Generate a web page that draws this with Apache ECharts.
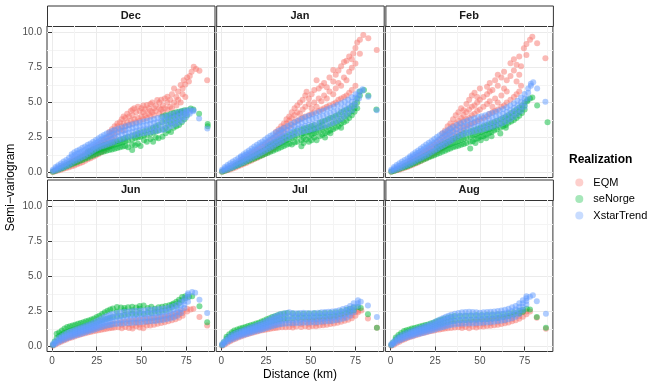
<!DOCTYPE html>
<html>
<head>
<meta charset="utf-8">
<script src="https://cdn.jsdelivr.net/npm/echarts@6/dist/echarts.min.js"></script>
<style>
  html, body { margin: 0; padding: 0; background: #fff; }
  #chart { width: 664px; height: 388px; }
</style>
</head>
<body>
<div id="chart"></div>
<script>
// facets, legend entries, ticks
const months = ['Dec', 'Jan', 'Feb', 'Jun', 'Jul', 'Aug'];
const realizations = ['EQM', 'seNorge', 'XstarTrend'];
const colors = ['#F8766D', '#00BA38', '#619CFF'];
const xTicks = [0, 25, 50, 75];
const xMinor = [12.5, 37.5, 62.5, 87.5];
const yTicks = [0, 2.5, 5, 7.5, 10];
const yMinor = [1.25, 3.75, 6.25, 8.75];

// semi-variogram: [distance, [values at that distance]]
const decEQM = [[0.5,[0.04]],[2,[0.08,0.14]],[3.5,[0.14,0.24]],[5,[0.2,0.34]],[6.5,[0.26,0.44]],[8,[0.32,0.54]],[9.5,[0.38,0.64]],[11,[0.44,0.62,0.78]],[12.5,[0.5,0.7,0.9]],[14,[0.58,0.8,1.0]],[15.5,[0.66,0.88,1.1]],[17,[0.74,0.98,1.2]],[18.5,[0.84,1.08,1.32]],[20,[0.94,1.18,1.44]],[21.5,[1.02,1.3,1.56]],[23,[1.12,1.42,1.7]],[24.5,[1.22,1.54,1.86]],[26,[1.32,1.66,2.0]],[27.5,[1.44,1.8,2.14]],[29,[1.56,1.94,2.3]],[30.5,[1.7,2.1,2.46]],[32,[1.84,2.26,2.64,2.9]],[33.5,[2.0,2.42,2.82,3.1]],[35,[2.2,2.6,3.0,3.3]],[36.5,[2.9,3.3,3.5]],[38,[3.1,3.6]],[39,[3.3,3.8]],[40,[3.0,3.5,4.0]],[41,[3.3,3.9]],[42,[3.6,4.2]],[43,[3.4,4.0]],[44,[3.7,4.4]],[45,[3.5,4.1,4.5]],[46,[3.8,4.6]],[47,[3.6,4.3]],[48,[3.9,4.7]],[49,[3.7,4.4]],[50,[4.0,4.6]],[51,[3.8,4.3,4.8]],[52,[4.1,4.5]],[53,[3.9,4.82]],[54,[4.2,4.6]],[55,[4.0,4.4,4.9]],[56,[4.3,5.0]],[57,[4.1,4.6]],[58,[4.4,4.8]],[58.8,[5.18]],[60,[4.2,4.6,5.0]],[61,[4.5,5.2]],[62,[4.3,4.8]],[63,[4.6,5.3]],[64.5,[4.5,5.0,5.42]],[66,[4.7,5.2]],[67,[4.6,5.6]],[68.2,[5.0,6.0]],[69.5,[4.8,5.4]],[70.5,[5.2,5.8]],[71.9,[5.0,6.25]],[73,[5.6,6.0]],[73.6,[6.6]],[74.5,[5.4,6.3]],[75.5,[6.8]],[76.5,[6.5]],[77,[6.9]],[78,[7.2]],[79.2,[7.56]],[80.5,[7.4]],[82.4,[7.28]],[86.7,[6.6]]];
const decSeNorge = [[0.5,[0.06]],[2,[0.12]],[3.5,[0.2]],[5,[0.26,0.32]],[6.5,[0.34,0.42]],[8,[0.42,0.52]],[9.5,[0.5,0.62]],[11,[0.58,0.72]],[12.5,[0.66,0.82]],[14,[0.74,0.92]],[15.5,[0.82,1.02]],[17,[0.9,1.12]],[18.5,[0.98,1.22]],[20,[1.06,1.3,1.5]],[21.5,[1.14,1.38,1.58]],[23,[1.22,1.46,1.66]],[24.5,[1.3,1.54,1.74]],[26,[1.38,1.6,1.82]],[27.5,[1.44,1.68,1.9]],[29,[1.5,1.74,1.96]],[30.5,[1.55,1.8,2.02]],[32,[1.6,1.86,2.08]],[33.5,[1.65,1.92,2.14]],[35,[1.7,1.98,2.2]],[36.5,[1.75,2.04,2.26]],[38,[1.8,2.1,2.34]],[39.5,[1.85,2.16,2.4]],[41,[1.9,2.22,2.48]],[42.5,[1.8,2.28,2.56]],[44.8,[1.6,2.0,2.36,2.64]],[46.5,[1.95,2.44,2.72]],[48,[2.05,2.5,2.8]],[49.5,[1.9,2.56,2.88]],[51.4,[2.31,2.64,2.95]],[53,[2.2,2.7,3.02]],[55,[2.4,2.78,3.1]],[56.5,[2.2,2.86,3.2]],[58,[2.5,2.94,3.3]],[59.5,[2.45,3.0,3.4]],[61.7,[2.55,3.1,3.6,4.0]],[63.5,[2.8,3.2,3.7,4.1]],[65,[3.0,3.4,3.8,4.1]],[66.5,[2.9,3.5,3.9,4.2]],[68,[3.2,3.6,4.0,4.25]],[69.5,[3.3,3.7,4.1,4.3]],[71,[3.4,3.8,4.2,4.35]],[72.5,[3.6,4.0,4.3,4.4]],[74,[3.8,4.2,4.45]],[75.5,[4.1,4.46]],[77.5,[4.58]],[79,[4.5]],[82.2,[4.2]],[87,[3.46,3.3]]];
const decXstar = [[0.5,[0.1,0.2]],[2,[0.14,0.28,0.4]],[3.5,[0.22,0.38,0.52]],[5,[0.3,0.48,0.65]],[6.5,[0.38,0.58,0.78]],[8,[0.48,0.68,0.9]],[9.5,[0.56,0.8,1.05]],[11,[0.68,0.9,1.15,1.3]],[12.5,[0.8,1.02,1.24,1.45]],[14,[0.9,1.12,1.34,1.55]],[15.5,[0.98,1.2,1.42,1.64]],[17,[1.08,1.3,1.52,1.76]],[18.5,[1.18,1.4,1.62,1.86]],[20,[1.3,1.52,1.76,1.98]],[21.5,[1.42,1.64,1.86,2.08]],[23,[1.56,1.78,1.98,2.2]],[24.5,[1.68,1.9,2.1,2.33]],[26,[1.76,2.0,2.22,2.45]],[27.5,[1.85,2.1,2.34,2.58]],[29,[1.92,2.18,2.44,2.68]],[30.5,[1.98,2.25,2.52,2.78]],[32,[2.06,2.34,2.6,2.86]],[33.5,[2.12,2.42,2.7,2.96]],[35,[2.2,2.5,2.78,3.05]],[37,[2.3,2.6,2.88,3.14]],[39,[2.4,2.7,2.96,3.22]],[41,[2.48,2.78,3.04,3.3]],[43,[2.56,2.84,3.12,3.38]],[45,[2.62,2.9,3.18,3.45]],[47,[2.68,2.96,3.24,3.52]],[49,[2.75,3.02,3.3,3.58]],[51,[2.8,3.08,3.36,3.64]],[53,[2.84,3.12,3.42,3.7]],[55,[2.88,3.16,3.48,3.76]],[57,[2.94,3.22,3.54,3.82]],[59,[2.98,3.28,3.6,3.9]],[61,[3.02,3.34,3.66,3.95]],[63,[3.08,3.4,3.72,4.0]],[65,[3.2,3.5,3.8,4.08]],[67,[3.32,3.6,3.88,4.16]],[69,[3.45,3.7,3.96,4.24]],[71,[3.56,3.82,4.06,4.3]],[73,[3.72,3.96,4.18,4.38]],[75,[3.95,4.14,4.3,4.44]],[77,[4.2,4.35,4.48]],[79,[4.38,4.45]],[82.2,[3.87]],[86.8,[3.15]]];

const janEQM = [[0.5,[0.05]],[2,[0.1]],[3.5,[0.16,0.22]],[5,[0.22,0.32]],[6.5,[0.28,0.42]],[8,[0.36,0.52]],[9.5,[0.44,0.64]],[11,[0.52,0.74,0.9]],[12.5,[0.6,0.82,1.0]],[14,[0.68,0.92,1.12]],[15.5,[0.78,1.02,1.24]],[17,[0.86,1.12,1.36]],[18.5,[0.96,1.22,1.48]],[20,[1.04,1.32,1.6]],[21.5,[1.14,1.44,1.72]],[23,[1.24,1.56,1.86]],[24.5,[1.34,1.68,2.0]],[26,[1.44,1.8,2.14]],[27.5,[1.56,1.94,2.3]],[29,[1.7,2.08,2.46]],[30.5,[1.84,2.24,2.62,2.9]],[32,[2.0,2.42,2.8,3.1]],[33.5,[2.16,2.6,3.0,3.3]],[35,[2.3,2.8,3.2,3.5]],[36.5,[3.1,3.5,3.8]],[38,[3.3,3.7,4.0]],[39.5,[3.4,3.9,4.3]],[41,[3.6,4.1,4.6]],[42.5,[3.7,4.3,4.8]],[44,[3.8,4.2,5.0]],[45.5,[3.9,4.5,5.2]],[47,[4.0,4.7,5.5]],[47.7,[5.77]],[49,[4.1,4.9,5.3]],[50.5,[4.2,4.6,5.6]],[52,[4.3,5.0,5.9]],[53.3,[4.7,6.6]],[54.5,[4.4,5.3,6.0]],[56,[4.5,5.1,6.2]],[57.5,[4.6,5.5,6.4]],[59,[4.7,5.3,6.1]],[60.5,[4.8,5.8,6.8]],[62.6,[4.9,5.6,6.5,7.33]],[64,[5.0,6.0,7.0]],[65.5,[5.2,6.4,7.3]],[67,[5.3,6.2,7.6]],[68.6,[5.4,6.8,7.9]],[70,[5.5,6.6,8.0]],[71.5,[5.7,7.2,8.3]],[73,[5.9,7.5,8.1]],[73.8,[8.52]],[75,[6.2,7.8,8.9]],[76,[9.3]],[77.5,[8.5,9.5]],[79.4,[9.83]],[82.2,[9.6]],[86.9,[8.76]]];
const janSeNorge = [[0.5,[0.06]],[2,[0.12]],[3.5,[0.2]],[5,[0.28]],[6.5,[0.36]],[8,[0.44,0.52]],[9.5,[0.52,0.62]],[11,[0.6,0.72]],[12.5,[0.68,0.82]],[14,[0.76,0.92]],[15.5,[0.84,1.02]],[17,[0.92,1.12]],[18.5,[1.0,1.22]],[20,[1.08,1.32]],[21.5,[1.16,1.42]],[23,[1.24,1.52]],[24.5,[1.32,1.62]],[26,[1.4,1.72,1.9]],[27.5,[1.48,1.8,2.0]],[29,[1.56,1.88,2.1]],[30.5,[1.64,1.96,2.2]],[32,[1.72,2.04,2.3]],[33.5,[1.8,2.12,2.4]],[35,[1.9,2.2,2.5]],[36.5,[1.98,2.3,2.6]],[38,[2.06,2.38,2.7]],[39.5,[2.0,2.46,2.8]],[41,[2.14,2.54,2.9]],[42.5,[2.2,2.62,3.0]],[44.8,[1.88,2.3,2.7,3.08]],[46,[2.1,2.5,2.8,3.15]],[47.5,[2.36,2.86,3.2]],[49,[2.2,2.6,2.94,3.26]],[50.5,[2.31,2.7,3.0,3.32]],[52,[2.5,2.8,3.1,3.4]],[53.3,[2.3,2.9,3.2]],[55,[2.6,3.0,3.3,3.55]],[56.5,[2.7,3.1,3.4,3.65]],[58,[2.5,2.8,3.2,3.7]],[59.5,[2.9,3.3,3.8]],[61,[2.8,3.0,3.4,3.9]],[62.5,[3.1,3.5,3.95]],[64,[3.2,3.6,4.05]],[65.5,[3.3,3.7,4.15]],[67,[3.2,3.5,3.85,4.3]],[68.5,[3.6,4.0,4.4]],[70,[3.7,4.1,4.5]],[71.5,[3.9,4.25,4.6]],[73,[4.1,4.4,4.75]],[74.5,[4.35,4.6,4.9]],[76,[4.6,5.0,5.3]],[77.5,[5.5,5.8]],[79.8,[5.9]],[82.2,[5.5]],[86.7,[4.5]]];
const janXstar = [[0.5,[0.1,0.2]],[2,[0.15,0.28,0.4]],[3.5,[0.22,0.38,0.54]],[5,[0.3,0.48,0.66]],[6.5,[0.38,0.58,0.78]],[8,[0.46,0.68,0.9]],[9.5,[0.55,0.78,1.02]],[11,[0.64,0.86,1.08,1.16]],[12.5,[0.74,0.96,1.18,1.3]],[14,[0.84,1.06,1.28,1.44]],[15.5,[0.94,1.16,1.38,1.58]],[17,[1.04,1.26,1.5,1.72]],[18.5,[1.14,1.38,1.62,1.86]],[20,[1.24,1.48,1.74,1.98]],[21.5,[1.34,1.58,1.86,2.1]],[23,[1.44,1.7,1.98,2.22]],[24.5,[1.56,1.82,2.1,2.36]],[26,[1.66,1.94,2.22,2.5]],[27.5,[1.76,2.06,2.34,2.62]],[29,[1.88,2.18,2.46,2.74]],[30.5,[2.0,2.3,2.58,2.86]],[32,[2.1,2.42,2.7,2.98]],[33.5,[2.2,2.52,2.82,3.08]],[35,[2.32,2.62,2.92,3.18]],[37,[2.46,2.76,3.04,3.32]],[39,[2.6,2.9,3.18,3.46]],[41,[2.72,3.02,3.32,3.6]],[43,[2.82,3.14,3.44,3.72]],[45,[2.9,3.24,3.56,3.84]],[47,[2.96,3.32,3.66,3.96]],[49,[3.02,3.4,3.76,4.06]],[51,[3.08,3.46,3.84,4.14]],[53,[3.14,3.52,3.9,4.24]],[55,[3.22,3.6,3.98,4.34]],[57,[3.3,3.68,4.06,4.42]],[59,[3.38,3.76,4.14,4.52]],[61,[3.46,3.84,4.24,4.62]],[63,[3.56,3.94,4.34,4.72]],[65,[3.68,4.06,4.44,4.84]],[67,[3.82,4.2,4.56,4.96]],[69,[4.0,4.36,4.7,5.08]],[71,[4.2,4.54,4.86,5.22]],[73,[4.44,4.76,5.06,5.38]],[75,[4.8,5.1,5.36,5.6]],[77,[5.3,5.55,5.8]],[79,[5.85,5.95]],[82.2,[5.42]],[86.9,[4.46]]];

const febEQM = [[0.5,[0.05]],[2,[0.1]],[3.5,[0.15,0.21]],[5,[0.2,0.3]],[6.5,[0.26,0.4]],[8,[0.33,0.5]],[9.5,[0.4,0.6]],[11,[0.48,0.68,0.84]],[12.5,[0.56,0.78,0.96]],[14,[0.64,0.88,1.08]],[15.5,[0.72,0.98,1.2]],[17,[0.82,1.08,1.32]],[18.5,[0.92,1.18,1.44]],[20,[1.02,1.3,1.58]],[21.5,[1.12,1.42,1.72]],[23,[1.22,1.54,1.86]],[24.5,[1.34,1.68,2.0]],[26,[1.46,1.82,2.16]],[27.5,[1.6,1.98,2.34]],[29,[1.74,2.14,2.52,2.8]],[30.5,[1.9,2.32,2.72,3.0]],[32,[2.06,2.5,2.92,3.3]],[33.5,[2.24,2.7,3.12,3.5]],[35,[2.42,2.9,3.32,3.8]],[36.5,[2.6,3.1,3.5,4.1]],[38,[2.8,3.3,3.7,4.3]],[39.5,[3.0,3.5,3.9,4.6]],[40.9,[3.2,3.7,4.1,4.46]],[42.5,[3.3,3.8,4.3,4.9]],[44,[3.4,3.9,4.5,5.2]],[45.5,[3.5,4.1,4.7,5.5]],[47,[3.6,4.2,4.8,5.7]],[48.5,[3.7,4.4,5.0,5.4]],[50,[3.8,4.5,5.2,6.0]],[52,[3.9,4.7,5.4]],[54,[4.0,4.9,5.6,6.13]],[55.5,[4.2,5.1,5.8,6.4]],[57,[4.3,4.7,5.9]],[58.5,[4.4,5.3,6.6]],[60,[4.5,5.0,6.2,7.0]],[62,[4.7,5.5,6.8]],[63.5,[4.8,6.0,7.2]],[65,[5.0,5.8,6.6]],[67.1,[5.2,6.9,7.81]],[69,[5.4,7.3,8.1]],[70.5,[5.6,6.5,7.7]],[72,[5.8,7.0,8.3]],[73,[6.2,7.6]],[74.6,[8.88]],[76,[8.4,9.2]],[78,[9.5]],[79.3,[9.71]],[82,[9.24]],[86.6,[8.17]]];
const febSeNorge = [[0.5,[0.06]],[2,[0.11]],[3.5,[0.18]],[5,[0.25]],[6.5,[0.32]],[8,[0.38,0.46]],[9.5,[0.45,0.55]],[11,[0.52,0.64]],[12.5,[0.6,0.74]],[14,[0.68,0.84]],[15.5,[0.76,0.94]],[17,[0.84,1.04]],[18.5,[0.92,1.14]],[20,[1.0,1.24]],[21.5,[1.08,1.34]],[23,[1.16,1.44]],[24.5,[1.24,1.54]],[26,[1.32,1.62,1.8]],[27.5,[1.4,1.7,1.9]],[29,[1.48,1.78,2.0]],[30.5,[1.56,1.86,2.1]],[32,[1.64,1.94,2.2]],[33.5,[1.72,2.02,2.3]],[35,[1.8,2.1,2.4]],[36.5,[1.86,2.18,2.5]],[38,[1.92,2.26,2.6]],[39.5,[1.98,2.34,2.7]],[41,[2.04,2.42,2.8]],[42.5,[2.1,2.5,2.88]],[44.6,[1.72,2.2,2.58,2.95]],[46,[2.24,2.64,3.0]],[47.5,[2.1,2.4,2.72,3.08]],[49,[2.44,2.8,3.15]],[50.5,[2.3,2.55,2.88,3.22]],[52,[2.6,2.95,3.3]],[53.5,[2.45,2.7,3.02,3.38]],[55,[2.8,3.1,3.45]],[56.5,[2.6,2.9,3.2,3.52]],[58,[3.0,3.3,3.6]],[59.5,[3.1,3.4,3.7]],[61.4,[2.79,3.2,3.5,3.8]],[63,[3.3,3.6,3.9]],[64.5,[3.2,3.4,3.7,4.0]],[66,[3.55,3.85,4.12]],[67.5,[3.65,3.95,4.25]],[69,[3.75,4.05,4.38]],[70.5,[3.9,4.2,4.5]],[72,[4.05,4.35,4.65]],[73.5,[4.25,4.55,4.8]],[75,[4.5,4.8,5.0]],[76.5,[5.1,5.2]],[78,[5.3]],[79.3,[5.37]],[82,[4.8]],[87.8,[3.6]]];
const febXstar = [[0.5,[0.1,0.2]],[2,[0.15,0.28,0.4]],[3.5,[0.22,0.38,0.54]],[5,[0.3,0.48,0.66]],[6.5,[0.38,0.58,0.78]],[8,[0.46,0.68,0.9]],[9.5,[0.54,0.78,1.0]],[11,[0.62,0.86,1.06,1.16]],[12.5,[0.72,0.96,1.16,1.3]],[14,[0.82,1.06,1.28,1.44]],[15.5,[0.92,1.16,1.4,1.58]],[17,[1.02,1.26,1.52,1.72]],[18.5,[1.12,1.38,1.64,1.86]],[20,[1.22,1.5,1.76,2.0]],[21.5,[1.32,1.6,1.88,2.12]],[23,[1.44,1.72,2.0,2.26]],[24.5,[1.56,1.84,2.12,2.4]],[26,[1.66,1.96,2.24,2.54]],[27.5,[1.78,2.08,2.38,2.66]],[29,[1.9,2.2,2.5,2.78]],[30.5,[2.0,2.32,2.62,2.9]],[32,[2.12,2.44,2.74,3.02]],[33.5,[2.24,2.56,2.86,3.14]],[35,[2.36,2.66,2.96,3.26]],[37,[2.5,2.8,3.1,3.4]],[39,[2.62,2.92,3.22,3.52]],[41,[2.72,3.02,3.32,3.62]],[43,[2.8,3.1,3.42,3.72]],[45,[2.88,3.18,3.5,3.8]],[47,[2.94,3.26,3.58,3.88]],[49,[3.0,3.32,3.64,3.96]],[51,[3.06,3.38,3.7,4.02]],[53,[3.12,3.44,3.78,4.1]],[55,[3.2,3.52,3.86,4.18]],[57,[3.28,3.6,3.94,4.26]],[59,[3.36,3.68,4.02,4.34]],[61,[3.44,3.78,4.1,4.44]],[63,[3.54,3.88,4.2,4.54]],[65,[3.66,4.0,4.32,4.66]],[67,[3.8,4.14,4.46,4.8]],[69,[3.96,4.3,4.62,4.96]],[71,[4.16,4.5,4.8,5.14]],[73,[4.4,4.72,5.02,5.36]],[75,[4.7,5.0,5.3,5.62]],[77,[5.3,5.7,6.0]],[78.5,[6.2,6.35]],[79.8,[6.45]],[82,[6.0]],[86.6,[5.06]]];

const junEQM = [[0.5,[0.05]],[2,[0.14]],[3.5,[0.24]],[5,[0.33,0.42]],[6.5,[0.42,0.52]],[8,[0.5,0.6]],[9.5,[0.58,0.68]],[11,[0.65,0.76]],[12.5,[0.72,0.84]],[14,[0.78,0.9]],[15.5,[0.84,0.97]],[17,[0.9,1.03]],[18.5,[0.95,1.09]],[20,[1.0,1.15]],[21.5,[1.04,1.2]],[23,[1.08,1.25]],[24.5,[1.12,1.3]],[26,[1.16,1.35]],[27.5,[1.2,1.4]],[29,[1.24,1.45]],[30.5,[1.27,1.5]],[32,[1.3,1.55]],[33.5,[1.33,1.6]],[35,[1.35,1.65]],[37,[1.38,1.7]],[39,[1.3,1.55,1.75]],[41,[1.4,1.78]],[43,[1.32,1.6,1.82]],[45,[1.28,1.5,1.86]],[47,[1.45,1.7,1.9]],[49,[1.35,1.58,1.92]],[51,[1.3,1.62,1.95]],[53,[1.5,1.75,1.98]],[54.9,[1.5,1.8,2.0]],[57,[1.55,1.85,2.03]],[59,[1.62,1.9,2.06]],[61,[1.68,1.95,2.1]],[63,[1.74,2.0,2.15]],[65,[1.8,2.05,2.2]],[67,[1.88,2.1,2.28]],[69,[1.95,2.18,2.36]],[71,[2.05,2.28,2.45]],[73,[2.2,2.4,2.56]],[75.5,[2.5,2.7]],[77.5,[2.65]],[79,[2.7]],[82.4,[2.1]],[86.7,[1.5]]];
const junSeNorge = [[0.5,[0.1]],[1.5,[0.35]],[2.6,[0.6,0.91]],[4,[0.75,1.0]],[5.5,[0.88,1.15]],[7,[0.98,1.28]],[8.5,[1.05,1.39]],[10,[1.12,1.45]],[11.5,[1.18,1.5]],[13,[1.24,1.56]],[14.5,[1.3,1.62]],[16,[1.36,1.68]],[17.5,[1.42,1.74]],[19,[1.48,1.8]],[20.5,[1.54,1.86]],[22,[1.6,1.93]],[23.5,[1.66,2.0]],[25,[1.72,2.1]],[26.5,[1.8,2.2]],[28,[1.88,2.32]],[29.5,[1.95,2.45]],[31,[2.0,2.55]],[32.5,[2.05,2.65]],[34,[2.1,2.72]],[36.3,[2.15,2.5,2.82]],[38.5,[2.2,2.78]],[40.5,[2.25,2.6,2.75]],[42.5,[2.3,2.8]],[44.8,[2.35,2.6,2.85]],[47,[2.3,2.78]],[49,[2.4,2.7,2.9]],[51.2,[2.35,2.94]],[53.5,[2.45,2.75]],[55.5,[2.4,2.85]],[57.5,[2.5,2.7]],[59.5,[2.45,2.8]],[61.5,[2.55,2.85]],[63.5,[2.6,2.9]],[65.5,[2.7,2.95]],[67,[2.8,3.0]],[68,[3.07]],[69.5,[2.9,3.2]],[71,[3.1,3.35]],[72.7,[3.3,3.54]],[74.5,[3.45,3.6]],[76.5,[3.55]],[78.3,[3.59]],[82.4,[2.87]],[86.7,[1.74]]];
const junXstar = [[0.5,[0.08,0.18]],[1.5,[0.15,0.3]],[2.5,[0.24,0.42]],[4,[0.34,0.48,0.62]],[5.5,[0.42,0.58,0.74]],[7,[0.5,0.68,0.85]],[8.5,[0.58,0.76,0.96]],[10,[0.66,0.84,1.05]],[11.5,[0.72,0.86,1.0,1.12]],[13,[0.78,0.92,1.06,1.2]],[14.5,[0.84,0.98,1.12,1.27]],[16,[0.9,1.05,1.2,1.34]],[17.5,[0.96,1.11,1.26,1.41]],[19,[1.02,1.17,1.33,1.48]],[20.5,[1.08,1.24,1.4,1.55]],[22,[1.14,1.3,1.46,1.63]],[23.5,[1.2,1.37,1.54,1.72]],[25,[1.27,1.45,1.63,1.82]],[26.5,[1.34,1.53,1.72,1.92]],[28,[1.4,1.6,1.8,2.02]],[29.5,[1.46,1.68,1.9,2.12]],[31,[1.5,1.74,1.97,2.2]],[32.5,[1.54,1.78,2.03,2.28]],[34,[1.58,1.83,2.08,2.34]],[36,[1.6,1.86,2.13,2.4]],[38,[1.62,1.89,2.16,2.44]],[40,[1.64,1.92,2.2,2.48]],[42,[1.66,1.94,2.22,2.5]],[44,[1.68,1.96,2.24,2.52]],[46,[1.7,1.98,2.26,2.55]],[48,[1.72,2.0,2.28,2.56]],[50,[1.74,2.02,2.3,2.58]],[52,[1.76,2.04,2.32,2.6]],[54,[1.78,2.06,2.34,2.62]],[56,[1.8,2.08,2.36,2.64]],[58,[1.83,2.1,2.38,2.66]],[60,[1.86,2.14,2.42,2.68]],[62,[1.9,2.18,2.46,2.72]],[64,[1.95,2.22,2.5,2.76]],[66,[2.0,2.28,2.56,2.82]],[68,[2.08,2.36,2.64,2.9]],[70,[2.2,2.46,2.74,3.0]],[72,[2.4,2.66,2.94,3.2]],[74,[2.75,3.0,3.25,3.45]],[76,[3.2,3.5,3.7,3.8]],[78.3,[3.9]],[80,[3.85]],[82.4,[3.35]],[86.7,[2.39]]];

const julEQM = [[0.5,[0.05]],[2,[0.14]],[3.5,[0.26]],[5,[0.38,0.5]],[6.5,[0.48,0.6]],[8,[0.56,0.68]],[9.5,[0.64,0.76]],[11,[0.71,0.84]],[12.5,[0.78,0.91]],[14,[0.85,0.98]],[15.5,[0.91,1.04]],[17,[0.97,1.1]],[18.5,[1.02,1.16]],[20,[1.07,1.22]],[21.5,[1.12,1.27]],[23,[1.16,1.32]],[24.5,[1.2,1.37]],[26,[1.24,1.42]],[27.5,[1.27,1.47]],[29,[1.3,1.52]],[30.5,[1.33,1.56]],[32,[1.35,1.6]],[34,[1.37,1.64]],[36,[1.38,1.68]],[38,[1.4,1.7]],[40,[1.36,1.55,1.72]],[42,[1.42,1.74]],[44.7,[1.39,1.6,1.76]],[47,[1.44,1.78]],[49,[1.4,1.62,1.8]],[51,[1.46,1.82]],[53,[1.45,1.66,1.85]],[55,[1.5,1.88]],[57,[1.52,1.72,1.92]],[59,[1.56,1.95]],[61,[1.6,1.8,1.98]],[63,[1.64,2.02]],[65,[1.7,1.9,2.08]],[67,[1.76,2.14]],[69,[1.84,2.05,2.2]],[71,[1.92,2.28]],[73,[2.02,2.22,2.38]],[75,[2.2,2.48]],[76.5,[2.45,2.55]],[78.3,[2.58]],[82,[2.01]],[87,[1.34]]];
const julSeNorge = [[0.5,[0.1]],[1.5,[0.3]],[3,[0.55,0.7]],[4.5,[0.72,0.88]],[6,[0.84,1.02]],[7.3,[0.94,1.15]],[9,[1.02,1.22]],[10.5,[1.08,1.28]],[12,[1.14,1.34]],[13.5,[1.2,1.4]],[15,[1.26,1.46]],[16.5,[1.32,1.52]],[18,[1.38,1.58]],[19.5,[1.44,1.64]],[21,[1.5,1.7]],[22.5,[1.56,1.78]],[24,[1.62,1.86]],[25.5,[1.68,1.94]],[27,[1.74,2.02]],[28.5,[1.8,2.1]],[30,[1.86,2.16]],[31.5,[1.9,2.24]],[33,[1.94,2.3]],[35,[1.98,2.36]],[37,[2.0,2.4]],[40,[2.02,2.36]],[43,[2.04,2.34]],[46,[2.05,2.35]],[49,[2.06,2.36]],[52,[2.08,2.37]],[55,[2.1,2.38]],[58,[2.12,2.4]],[61,[2.15,2.42]],[64,[2.2,2.45]],[67,[2.3,2.52]],[70,[2.42,2.62]],[72,[2.5,2.7]],[74,[2.6,2.78]],[76.4,[2.82]],[78,[2.75]],[82,[2.3]],[87,[1.34]]];
const julXstar = [[0.5,[0.08,0.18]],[1.5,[0.16,0.32]],[2.5,[0.26,0.44]],[4,[0.38,0.52,0.66]],[5.5,[0.48,0.64,0.8]],[7,[0.56,0.72,0.9]],[8.5,[0.64,0.8,0.98]],[10,[0.72,0.88,1.06]],[11.5,[0.78,0.9,1.02,1.13]],[13,[0.84,0.96,1.08,1.2]],[14.5,[0.9,1.02,1.15,1.27]],[16,[0.96,1.08,1.21,1.34]],[17.5,[1.02,1.15,1.28,1.41]],[19,[1.08,1.21,1.35,1.48]],[20.5,[1.13,1.27,1.41,1.55]],[22,[1.18,1.33,1.48,1.63]],[23.5,[1.24,1.4,1.56,1.72]],[25,[1.3,1.47,1.64,1.82]],[26.5,[1.36,1.54,1.73,1.92]],[28,[1.42,1.62,1.82,2.02]],[29.5,[1.48,1.69,1.9,2.12]],[31,[1.53,1.75,1.97,2.2]],[32.5,[1.57,1.8,2.04,2.28]],[34,[1.6,1.84,2.09,2.34]],[36,[1.62,1.88,2.14,2.4]],[38,[1.64,1.9,2.17,2.44]],[40,[1.66,1.91,2.16,2.4]],[42,[1.67,1.91,2.15,2.38]],[44,[1.68,1.92,2.16,2.4]],[46,[1.69,1.94,2.18,2.42]],[48,[1.7,1.94,2.17,2.4]],[50,[1.71,1.94,2.16,2.38]],[52,[1.72,1.95,2.18,2.4]],[54,[1.74,1.97,2.2,2.42]],[56,[1.76,1.99,2.22,2.44]],[58,[1.78,2.01,2.24,2.46]],[60,[1.8,2.03,2.26,2.48]],[62,[1.83,2.06,2.28,2.5]],[64,[1.87,2.09,2.32,2.54]],[66,[1.92,2.15,2.38,2.6]],[68,[1.98,2.22,2.45,2.68]],[70,[2.06,2.3,2.53,2.76]],[72,[2.2,2.44,2.67,2.9]],[74,[2.45,2.65,2.85,3.1]],[76.4,[2.9,3.1,3.3]],[78,[3.2]],[82,[2.94]],[87,[2.1]]];

const augEQM = [[0.5,[0.05]],[2,[0.13]],[3.5,[0.24]],[5,[0.34,0.46]],[6.5,[0.44,0.56]],[8,[0.52,0.64]],[9.5,[0.6,0.72]],[11,[0.67,0.8]],[12.5,[0.74,0.87]],[14,[0.8,0.94]],[15.5,[0.86,1.0]],[17,[0.92,1.06]],[18.5,[0.97,1.12]],[20,[1.02,1.18]],[21.5,[1.07,1.23]],[23,[1.11,1.28]],[24.5,[1.15,1.33]],[26,[1.19,1.38]],[27.5,[1.22,1.43]],[29,[1.25,1.48]],[30.5,[1.28,1.52]],[32,[1.3,1.56]],[34,[1.33,1.6]],[36,[1.35,1.64]],[38,[1.37,1.67]],[40,[1.33,1.5,1.7]],[42,[1.39,1.72]],[44,[1.31,1.55,1.74]],[46,[1.41,1.76]],[48,[1.36,1.58,1.78]],[50,[1.43,1.8]],[52,[1.42,1.62,1.83]],[54,[1.46,1.86]],[56,[1.48,1.68,1.9]],[58,[1.52,1.93]],[60,[1.56,1.76,1.96]],[62,[1.6,2.0]],[64,[1.66,1.86,2.05]],[66,[1.72,2.1]],[68,[1.8,1.98,2.16]],[70,[1.88,2.24]],[72,[1.98,2.16,2.34]],[74,[2.12,2.44]],[76,[2.3,2.5]],[78,[2.5]],[81.8,[2.05]],[86.9,[1.27]]];
const augSeNorge = [[0.5,[0.1]],[1.5,[0.28]],[3,[0.5,0.65]],[4.5,[0.66,0.82]],[6,[0.78,0.96]],[7.6,[0.88,1.1]],[9,[0.96,1.16]],[10.5,[1.02,1.22]],[12,[1.08,1.28]],[13.5,[1.14,1.33]],[15,[1.2,1.38]],[16.5,[1.25,1.43]],[18,[1.3,1.48]],[19.5,[1.35,1.53]],[21,[1.4,1.58]],[22.5,[1.45,1.64]],[24,[1.5,1.7]],[25.5,[1.55,1.78]],[27,[1.6,1.85]],[28.5,[1.65,1.92]],[30,[1.7,1.98]],[32,[1.75,2.05]],[34,[1.8,2.12]],[36,[1.84,2.18]],[39,[1.88,2.2]],[42,[1.9,2.22]],[45,[1.92,2.24]],[48,[1.93,2.25]],[51,[1.95,2.26]],[54,[1.97,2.27]],[57,[2.0,2.28]],[60,[2.04,2.3]],[63,[2.1,2.33]],[66,[2.18,2.38]],[69,[2.28,2.45]],[72,[2.38,2.55]],[74,[2.48,2.62]],[76.2,[2.7]],[78,[2.65]],[81.8,[2.1]],[86.9,[1.34]]];
const augXstar = [[0.5,[0.08,0.18]],[1.5,[0.15,0.3]],[2.5,[0.24,0.42]],[4,[0.36,0.5,0.62]],[5.5,[0.45,0.6,0.75]],[7,[0.53,0.68,0.85]],[8.5,[0.6,0.76,0.94]],[10,[0.67,0.83,1.02]],[11.5,[0.73,0.85,0.97,1.09]],[13,[0.79,0.91,1.04,1.16]],[14.5,[0.85,0.98,1.1,1.23]],[16,[0.9,1.03,1.17,1.3]],[17.5,[0.95,1.09,1.22,1.36]],[19,[1.0,1.14,1.29,1.43]],[20.5,[1.05,1.2,1.35,1.5]],[22,[1.1,1.26,1.42,1.58]],[23.5,[1.16,1.33,1.49,1.66]],[25,[1.22,1.4,1.58,1.76]],[26.5,[1.28,1.47,1.67,1.86]],[28,[1.34,1.54,1.75,1.95]],[29.5,[1.4,1.61,1.83,2.04]],[31,[1.45,1.67,1.9,2.12]],[32.5,[1.5,1.73,1.97,2.2]],[34,[1.54,1.78,2.03,2.27]],[36,[1.57,1.83,2.08,2.34]],[38,[1.6,1.87,2.13,2.4]],[40,[1.62,1.89,2.17,2.44]],[42,[1.63,1.91,2.18,2.46]],[44,[1.64,1.92,2.2,2.48]],[46,[1.65,1.92,2.19,2.46]],[48,[1.66,1.92,2.18,2.44]],[50,[1.68,1.93,2.17,2.42]],[52,[1.7,1.95,2.19,2.44]],[54,[1.72,1.97,2.21,2.46]],[56,[1.74,1.99,2.23,2.48]],[58,[1.77,2.01,2.26,2.5]],[60,[1.8,2.04,2.29,2.53]],[62,[1.84,2.08,2.33,2.57]],[64,[1.88,2.13,2.37,2.62]],[66,[1.94,2.19,2.45,2.7]],[68,[2.02,2.28,2.54,2.8]],[70,[2.12,2.38,2.64,2.9]],[72,[2.3,2.57,2.83,3.1]],[74,[2.6,2.85,3.1,3.3]],[76,[3.0,3.25,3.45,3.6]],[78,[3.55]],[79.6,[3.66]],[81.8,[3.23]],[86.9,[2.35]]];

const panels = [
  [decEQM, decSeNorge, decXstar],
  [janEQM, janSeNorge, janXstar],
  [febEQM, febSeNorge, febXstar],
  [junEQM, junSeNorge, junXstar],
  [julEQM, julSeNorge, julXstar],
  [augEQM, augSeNorge, augXstar]
];

function toPoints(rows) {
  const pts = [];
  rows.forEach(([x, ys]) => ys.forEach(y => pts.push([x, y])));
  return pts;
}

const FONT = '"Liberation Sans", Arial, sans-serif';
const colLeft = [47, 216.2, 385.4];
const panelW = 167.5;
const rowTop = [26, 200];
const panelH = 151.5;
const stripTop = [5.5, 179.5];
const stripH = 20.5;

const grids = [], xAxes = [], yAxes = [], series = [], graphics = [];

months.forEach((m, i) => {
  const col = i % 3, row = Math.floor(i / 3);
  const left = colLeft[col], top = rowTop[row];
  const showX = row === 1, showY = col === 0;
  grids.push({
    left: left, top: top, width: panelW, height: panelH,
    show: true, backgroundColor: '#fff', borderColor: '#333', borderWidth: 1
  });
  // major axis (labels, ticks, major grid)
  xAxes.push({
    gridIndex: i, type: 'value', min: -2.8, max: 90.8,
    axisLine: { show: false },
    axisTick: { show: showX, customValues: xTicks, length: 4, lineStyle: { color: '#333' } },
    axisLabel: { show: showX, customValues: xTicks, color: '#4D4D4D', fontSize: 10, margin: 5, fontFamily: FONT },
    splitLine: { show: true, lineStyle: { color: '#EBEBEB', width: 1 } }
  });
  // minor grid
  xAxes.push({
    gridIndex: i, type: 'value', min: -2.8, max: 90.8,
    axisLine: { show: false },
    axisTick: { show: false, customValues: xMinor },
    axisLabel: { show: false, customValues: xMinor },
    splitLine: { show: true, lineStyle: { color: '#F4F4F4', width: 1 } }
  });
  yAxes.push({
    gridIndex: i, type: 'value', min: -0.36, max: 10.48,
    axisLine: { show: false },
    axisTick: { show: showY, customValues: yTicks, length: 4, lineStyle: { color: '#333' } },
    axisLabel: { show: showY, customValues: yTicks, color: '#4D4D4D', fontSize: 10, margin: 5, fontFamily: FONT,
      formatter: v => v.toFixed(1) },
    splitLine: { show: true, lineStyle: { color: '#EBEBEB', width: 1 } }
  });
  yAxes.push({
    gridIndex: i, type: 'value', min: -0.36, max: 10.48,
    axisLine: { show: false },
    axisTick: { show: false, customValues: yMinor },
    axisLabel: { show: false, customValues: yMinor },
    splitLine: { show: true, lineStyle: { color: '#F4F4F4', width: 1 } }
  });

  panels[i].forEach((rows, r) => {
    series.push({
      name: realizations[r], type: 'scatter',
      xAxisIndex: 2 * i, yAxisIndex: 2 * i,
      data: toPoints(rows),
      symbol: 'circle', symbolSize: 6,
      itemStyle: { color: colors[r], opacity: 0.5 },
      silent: true, animation: false
    });
  });

  // facet strip
  graphics.push({
    type: 'rect', left: left, top: stripTop[row],
    shape: { width: panelW, height: stripH },
    style: { fill: '#fff', stroke: '#333', lineWidth: 1 }
  });
  graphics.push({
    type: 'text', x: left + panelW / 2, y: stripTop[row] + stripH / 2,
    style: { text: m, fill: '#1A1A1A', font: 'bold 11px ' + FONT, textAlign: 'center', textVerticalAlign: 'middle' }
  });
});

graphics.push({
  type: 'text', x: 10.5, y: 187.5, rotation: Math.PI / 2,
  style: { text: 'Semi−variogram', fill: '#000', font: '12px ' + FONT, textAlign: 'center', textVerticalAlign: 'middle' }
});
graphics.push({
  type: 'text', x: 300, y: 375,
  style: { text: 'Distance (km)', fill: '#000', font: '12px ' + FONT, textAlign: 'center', textVerticalAlign: 'middle' }
});
graphics.push({
  type: 'text', x: 569, y: 159.5,
  style: { text: 'Realization', fill: '#000', font: 'bold 12px ' + FONT, textAlign: 'left', textVerticalAlign: 'middle' }
});

const chart = echarts.init(document.getElementById('chart'), null, { renderer: 'canvas' });
chart.setOption({
  backgroundColor: '#fff',
  animation: false,
  grid: grids,
  xAxis: xAxes,
  yAxis: yAxes,
  legend: {
    data: realizations, orient: 'vertical', left: 570.3, top: 172,
    itemWidth: 18, itemHeight: 8, itemGap: 5.5, icon: 'circle',
    selectedMode: false,
    itemStyle: { opacity: 0.35 },
    textStyle: { color: '#000', fontSize: 11, fontFamily: FONT }
  },
  series: series,
  graphic: graphics
});
</script>
</body>
</html>
